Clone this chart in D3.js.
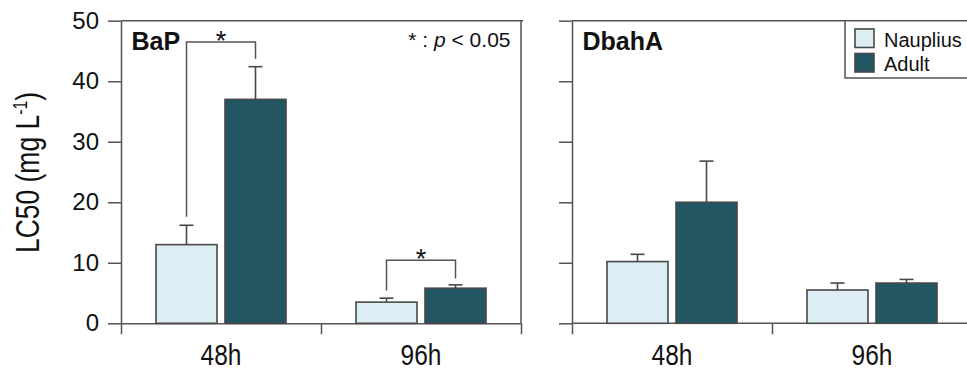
<!DOCTYPE html>
<html>
<head>
<meta charset="utf-8">
<script src="https://cdn.jsdelivr.net/npm/d3@7/dist/d3.min.js"></script>
<style>
  html, body { margin: 0; padding: 0; background: #fff; }
  svg { display: block; }
  text { font-family: "Liberation Sans", Arial, Helvetica, sans-serif; fill: #111; }
</style>
</head>
<body>
<svg id="chart" width="967" height="372"></svg>
<script>
// ---------------- data ----------------
const categories = ["48h", "96h"];
const series = ["Nauplius", "Adult"];
const panels = ["BaP", "DbahA"];
const yTicks = [0, 10, 20, 30, 40, 50];

const bapNauplius = [13.0, 3.5];
const bapNaupliusSD = [3.2, 0.65];
const bapAdult = [37.0, 5.8];
const bapAdultSD = [5.4, 0.55];

const dbahaNauplius = [10.2, 5.5];
const dbahaNaupliusSD = [1.2, 1.15];
const dbahaAdult = [20.0, 6.65];
const dbahaAdultSD = [6.8, 0.6];

// significance brackets (values in mg/L units): top of bracket, bottom of left leg, bottom of right leg
const bracketPanel = ["BaP", "BaP"];
const bracketCategory = ["48h", "96h"];
const bracketTop = [46.5, 10.4];
const bracketLeft = [17.6, 5.4];
const bracketRight = [43.7, 7.4];

// ---------------- styles ----------------
const axisColor = "#5a5151";
const barStroke = "#484848";
const fills = { Nauplius: "#dcedf3", Adult: "#225662" };

const panelData = {
  BaP: { Nauplius: { mean: bapNauplius, sd: bapNaupliusSD }, Adult: { mean: bapAdult, sd: bapAdultSD } },
  DbahA: { Nauplius: { mean: dbahaNauplius, sd: dbahaNaupliusSD }, Adult: { mean: dbahaAdult, sd: dbahaAdultSD } }
};

const svg = d3.select("#chart");
const y = d3.scaleLinear().domain([0, 50]).range([323.3, 20.7]);
const panelLeft = { BaP: 121, DbahA: 572 };
const bandW = 200;

const x1 = d3.scaleBand().domain(series).range([0, bandW]).paddingInner(0.116).paddingOuter(0.507);

panels.forEach((p, pi) => {
  const x0 = d3.scaleBand().domain(categories).range([panelLeft[p], panelLeft[p] + 2 * bandW]).padding(0);
  const g = svg.append("g");

  // frame: top and right border
  g.append("line")
    .attr("x1", x0.range()[0]).attr("x2", x0.range()[1] + 2)
    .attr("y1", y(50)).attr("y2", y(50))
    .attr("stroke", axisColor).attr("stroke-width", 1.5);
  g.append("line")
    .attr("x1", x0.range()[1]).attr("x2", x0.range()[1])
    .attr("y1", y(50)).attr("y2", y(0))
    .attr("stroke", axisColor).attr("stroke-width", 1.5);

  // y axis
  const yAxis = d3.axisLeft(y).tickValues(yTicks).tickSize(13).tickSizeOuter(0).tickPadding(9)
    .tickFormat(pi === 0 ? d3.format("d") : () => "");
  const ya = g.append("g").attr("transform", `translate(${x0.range()[0]},0)`).call(yAxis);
  ya.selectAll("path, line").attr("stroke", axisColor).attr("stroke-width", 1.5);
  ya.selectAll("text").attr("font-size", 24).attr("fill", "#111")
    .style("font-family", '"Liberation Sans", Arial, sans-serif');

  // x axis with ticks at category boundaries
  const xb = d3.scaleLinear().domain([0, categories.length]).range(x0.range());
  const xAxis = d3.axisBottom(xb).tickValues(d3.range(categories.length + 1)).tickSize(11).tickSizeOuter(0).tickFormat(() => "");
  const xa = g.append("g").attr("transform", `translate(0,${y(0)})`).call(xAxis);
  xa.selectAll("path, line").attr("stroke", axisColor).attr("stroke-width", 1.5);
  if (pi === 1) xa.select("path").attr("d", `M${xb.range()[0]},0H${xb.range()[1] + 10}`);

  // category labels
  categories.forEach(c => {
    const cx = x0(c) + x0.bandwidth() / 2;
    g.append("text")
      .attr("transform", `translate(${cx},365) scale(0.83,1)`)
      .attr("text-anchor", "middle")
      .attr("font-size", 29.5)
      .text(c);
  });

  // bars + error bars
  series.forEach(s => {
    const d = panelData[p][s];
    categories.forEach((c, ci) => {
      const bx = x0(c) + x1(s);
      const top = d.mean[ci] + d.sd[ci];
      const cx = bx + x1.bandwidth() / 2;
      g.append("line")
        .attr("x1", cx).attr("x2", cx)
        .attr("y1", y(d.mean[ci])).attr("y2", y(top))
        .attr("stroke", barStroke).attr("stroke-width", 1.6);
      g.append("line")
        .attr("x1", cx - 7).attr("x2", cx + 7)
        .attr("y1", y(top)).attr("y2", y(top))
        .attr("stroke", barStroke).attr("stroke-width", 1.6);
      g.append("rect")
        .attr("x", bx).attr("y", y(d.mean[ci]))
        .attr("width", x1.bandwidth()).attr("height", y(0) - y(d.mean[ci]))
        .attr("fill", fills[s]).attr("stroke", barStroke).attr("stroke-width", 1.6);
    });
  });

  // significance brackets
  bracketPanel.forEach((bp, bi) => {
    if (bp !== p) return;
    const c = bracketCategory[bi];
    const lx = x0(c) + x1("Nauplius") + x1.bandwidth() / 2;
    const rx = x0(c) + x1("Adult") + x1.bandwidth() / 2;
    g.append("path")
      .attr("d", `M${lx},${y(bracketLeft[bi])}V${y(bracketTop[bi])}H${rx}V${y(bracketRight[bi])}`)
      .attr("fill", "none").attr("stroke", axisColor).attr("stroke-width", 1.5);
    g.append("text")
      .attr("x", (lx + rx) / 2).attr("y", y(bracketTop[bi]) + 8)
      .attr("text-anchor", "middle").attr("font-size", 27)
      .text("*");
  });

  // panel title
  g.append("text")
    .attr("x", x0.range()[0] + 10.5).attr("y", 50)
    .attr("font-size", 25).attr("font-weight", "bold")
    .text(p);
});

// significance note
const note = svg.append("text").attr("x", 510.5).attr("y", 46.5).attr("text-anchor", "end").attr("font-size", 21);
note.append("tspan").text("* : ");
note.append("tspan").attr("font-style", "italic").text("p");
note.append("tspan").text(" < 0.05");

// y axis title
const yl = svg.append("text")
  .attr("transform", "translate(39,172.5) rotate(-90) scale(0.79,1)")
  .attr("text-anchor", "middle")
  .attr("font-size", 33.5);
yl.append("tspan").text("LC50 (mg L");
yl.append("tspan").attr("font-size", 20).attr("dy", -12).text("-1");
yl.append("tspan").attr("dy", 12).text(")");

// legend
const lg = svg.append("g");
lg.append("rect").attr("x", 845).attr("y", y(50)).attr("width", 140).attr("height", 78 - y(50))
  .attr("fill", "#fff").attr("stroke", axisColor).attr("stroke-width", 1.5);
series.forEach((s, i) => {
  const yy = 29 + i * 24.5;
  lg.append("rect").attr("x", 855).attr("y", yy).attr("width", 19).attr("height", 18.5)
    .attr("fill", fills[s]).attr("stroke", barStroke).attr("stroke-width", 1.6);
  lg.append("text").attr("x", 884).attr("y", yy + 17.5).attr("font-size", 20).text(s);
});
</script>
</body>
</html>
